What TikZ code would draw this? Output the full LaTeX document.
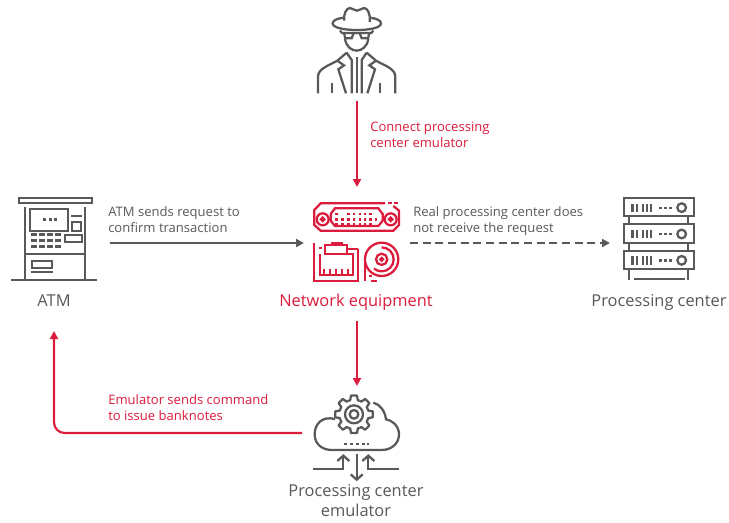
\documentclass[tikz,border=0pt]{standalone}
\usepackage{fontspec}
\setmainfont{Open Sans}
\usetikzlibrary{arrows.meta}
\definecolor{rd}{HTML}{DC1C3C}
\definecolor{gy}{HTML}{58595B}
\tikzset{
 flow/.style={line width=1.6pt,-{Triangle[length=6pt,width=6pt]}},
 redflow/.style={flow,draw=rd},
 greyflow/.style={flow,draw=gy},
 note/.style={anchor=base west,inner sep=0,font=\fontsize{9.8}{11.3}\selectfont,align=left},
 captext/.style={anchor=base,inner sep=0,font=\fontsize{12.3}{14.5}\selectfont,align=center},
 icon/.style={x=0.25pt,y=-0.25pt,line width=1.7pt,line join=miter}
}
\begin{document}
\begin{tikzpicture}[x=0.75pt,y=-0.75pt]
\path[use as bounding box,fill=white] (0,0) rectangle (729,522);
% anchors
\coordinate (spy) at (357,101);
\coordinate (nettop) at (357,187);
\coordinate (netleft) at (304,243);
\coordinate (netright) at (410,243);
\coordinate (netbot) at (357,321);
\coordinate (atmr) at (110,243);
\coordinate (pcl) at (610,243);
\coordinate (emtop) at (357,386);
\coordinate (emleft) at (302,433);
\coordinate (atmb) at (54,331);
\coordinate (bend) at (54,433);
% spy
\begin{scope}[icon,draw=gy,shift={(225pt,0pt)}]
\draw (133,62) .. controls (130,40) and (140,24) .. (150,24) .. controls (158,24) and (162,32) .. (171,32) .. controls (180,32) and (184,24) .. (192,24) .. controls (202,24) and (212,40) .. (209,66);
\draw (133,53) .. controls (110,55) and (98,62) .. (98,70) .. controls (98,84) and (135,90) .. (171,90) .. controls (207,90) and (243,84) .. (243,70) .. controls (243,62) and (230,55) .. (209,53);
\draw (120,92) -- (126,99) -- (214,99) -- (220,92);
\draw (132,99) -- (136,115) -- (155,115) -- (161,99);
\draw (179,99) -- (185,115) -- (204,115) -- (208,99);
\draw (135,116) .. controls (138,140) and (155,152) .. (170,152) .. controls (185,152) and (202,140) .. (205,116);
\draw (54,280) -- (54,230) .. controls (54,205) and (90,195) .. (112,182) -- (140,158);
\draw (286,280) -- (286,230) .. controls (286,205) and (250,195) .. (228,182) -- (200,158);
\draw (112,182) -- (132,196) -- (115,208) -- (138,280);
\draw (228,182) -- (208,196) -- (225,208) -- (202,280);
\draw (140,158) -- (155,180) -- (155,280);
\draw (200,158) -- (185,180) -- (185,280);
\draw (170,172) -- (170,280);
\draw (97,250) -- (97,280);
\draw (241,250) -- (241,280);
\end{scope}
% network
\begin{scope}[icon,draw=rd,shift={(225pt,-142.5pt)}]
\draw (255,40) -- (62,40) -- (43,60) -- (43,105) -- (62,122) -- (280,122) -- (297,105) -- (297,62) -- (280,48);
\draw (265,40) -- (275,40) (283,40) -- (293,40);
\draw (105,55) -- (235,55) -- (248,72) -- (248,92) -- (235,108) -- (105,108) -- (92,92) -- (92,72) -- cycle;
\draw (68,88) circle (18); \draw (68,88) circle (5);
\draw (272,88) circle (18); \draw (272,88) circle (5);
\foreach \x in {110,145,162,180,195,212} \fill[rd] (\x-4,68) rectangle +(8,8);
\foreach \x in {110,127,145,162,180,195,212,228} \fill[rd] (\x-4,85) rectangle +(8,8);
\foreach \x in {110,127,145,162,180,195,212} \fill[rd] (\x-4,99) rectangle +(8,8);
\draw (175,176) -- (175,273) -- (43,273) -- (43,158);
\draw (140,176) -- (175,176);
\draw (60,192) -- (60,255) -- (158,255) -- (158,192) -- (140,192);
\fill[rd] (57,170) rectangle +(8,8);
\draw (75,166) -- (140,166) -- (140,192) -- (75,192) -- cycle;
\fill[rd] (92,157) rectangle (128,166);
\foreach \x in {72,90,108,126,144} \fill[rd] (\x-3,238) rectangle +(7,17);
\draw (245,208) circle (50);
\draw (195,208) -- (195,272);
\fill[rd] (208,254) rectangle +(8,8);
\draw (212,272) -- (232,272);
\draw (245,172) arc (-90:130:36);
\draw (245,208) circle (17); \draw (245,208) circle (4);
\end{scope}
% ATM
\begin{scope}[icon,draw=gy,shift={(3.75pt,-142.5pt)}]
\draw (42,23) rectangle (262,39);
\draw (59,52) -- (59,268); \draw (241,52) -- (241,268);
\draw (18,270) -- (275,270);
\draw (74,57) rectangle (188,122);
\foreach \x in {113,131,148} \fill[gy] (\x,85) rectangle +(9,8);
\draw (198,79) -- (230,79);
\draw (202,95) rectangle (228,122);
\draw (180,135) rectangle (230,155);
\foreach \y in {130,148,165}{\foreach \x in {78,102,127,150} \fill[gy] (\x,\y) rectangle +(18,9);}
\draw (59,192) -- (241,192);
\draw (80,213) rectangle (142,234);
\draw (78,247) -- (144,247);
\end{scope}
% server
\begin{scope}[icon,draw=gy,shift={(457.5pt,-142.5pt)}]
\foreach \y in {24,103,182}{
 \draw (42,\y) rectangle (252,\y+55);
 \foreach \x in {64,77,96,108,120} \fill[gy] (\x,\y+17) rectangle +(7,25);
 \foreach \x in {148,163,178} \fill[gy] (\x,\y+26) rectangle +(8,7);
 \draw (215,\y+29) circle (13);
}
\draw (58,79) -- (58,103) (235,79) -- (235,103);
\draw (58,158) -- (58,182) (235,158) -- (235,182);
\draw (58,237) -- (58,270) (235,237) -- (235,270);
\draw (72,266) -- (225,266);
\end{scope}
% emulator
\begin{scope}[icon,draw=gy,shift={(225pt,-288.75pt)}]
\draw (105,102) .. controls (65,92) and (44,118) .. (44,148) .. controls (44,180) and (70,195) .. (95,195) -- (245,195) .. controls (275,195) and (297,175) .. (297,148) .. controls (297,122) and (275,105) .. (258,103) .. controls (255,78) and (240,58) .. (220,53);
\foreach \a in {0,45,...,315}
 \draw[shift={(162,88)},line join=round] (\a-22.5:44) -- (\a-15:44) -- (\a-9:57) -- (\a+9:57) -- (\a+15:44) -- (\a+22.5:44);
\draw (162,88) circle (27); \draw (162,88) circle (13);
\foreach \x in {133,151,169,186,200} \fill[gy] (\x,173) rectangle +(8,8);
\draw (40,252) -- (130,252) -- (130,215);
\draw (112,228) -- (130,212) -- (148,228);
\draw (298,252) -- (205,252) -- (205,215);
\draw (187,228) -- (205,212) -- (223,228);
\draw (170,208) -- (170,282);
\draw (152,268) -- (170,284) -- (188,268);
\end{scope}
% connectors
\draw[redflow] (spy) -- (nettop);
\draw[greyflow] (atmr) -- (netleft);
\draw[greyflow,dash pattern=on 6pt off 3.5pt] (netright) -- (pcl);
\draw[redflow] (netbot) -- (emtop);
\draw[redflow,rounded corners=8pt] (emleft) -- (bend) -- (atmb);
% labels
\node[note,text=rd] (t1) at (370,147) {Connect processing\\center emulator};
\node[note,text=gy] (t2) at (108,232) {ATM sends request to\\confirm transaction};
\node[note,text=gy] (t3) at (413,232) {Real processing center does\\not receive the request};
\node[note,text=rd] (t4) at (108,420) {Emulator sends command\\to issue banknotes};
\node[captext,text=gy] (c1) at (54,306) {ATM};
\node[captext,text=rd] (c2) at (356,306) {Network equipment};
\node[captext,text=gy] (c3) at (659,306) {Processing center};
\node[captext,text=gy] (c4) at (356,516) {Processing center\\emulator};
\end{tikzpicture}
\end{document}
